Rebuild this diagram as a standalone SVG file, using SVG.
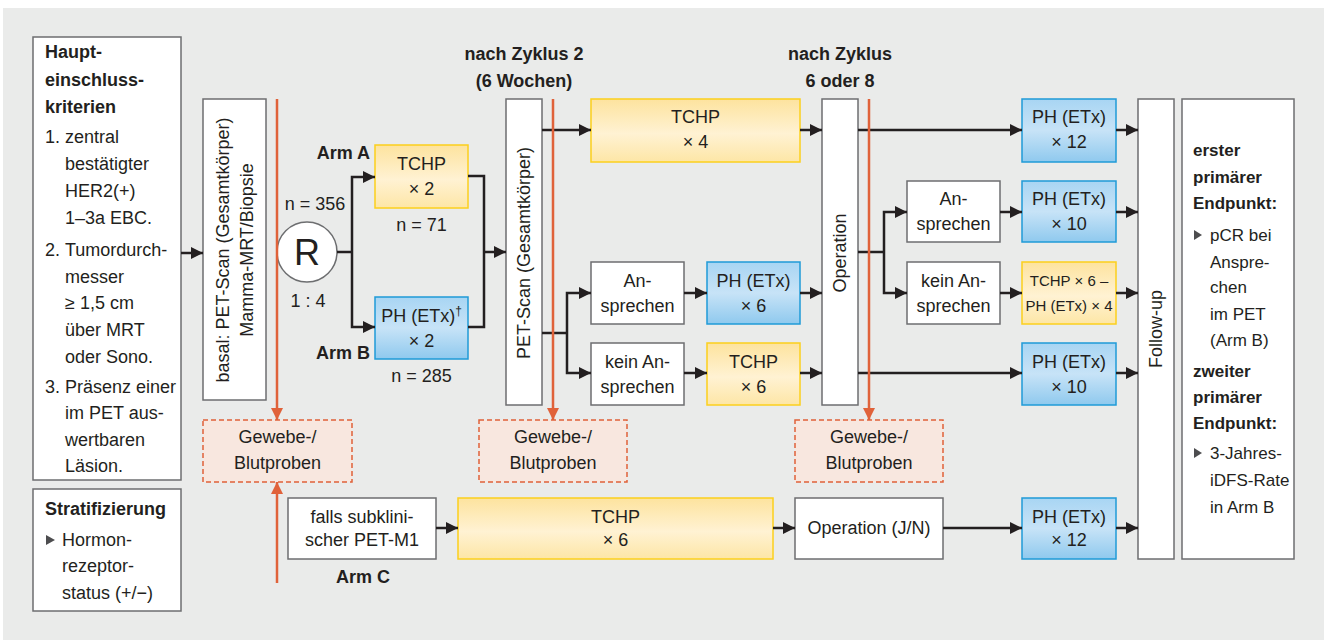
<svg xmlns="http://www.w3.org/2000/svg" width="1327" height="640" viewBox="0 0 1327 640">
  <defs>
    <linearGradient id="gradYellow" x1="0" y1="0" x2="0" y2="1">
      <stop offset="0" stop-color="#fde39e"/>
      <stop offset="0.55" stop-color="#fff2d3"/>
      <stop offset="1" stop-color="#fde6a6"/>
    </linearGradient>
    <linearGradient id="gradBlue" x1="0" y1="0" x2="0" y2="1">
      <stop offset="0" stop-color="#a8d5f3"/>
      <stop offset="0.5" stop-color="#c7e3f7"/>
      <stop offset="1" stop-color="#8fc9ee"/>
    </linearGradient>
    <marker id="arrowDark" markerUnits="userSpaceOnUse" markerWidth="12" markerHeight="12" refX="12" refY="6" orient="auto">
      <path d="M0,0 L12,6 L0,12 z" fill="#231f20"/>
    </marker>
    <marker id="arrowOrange" markerUnits="userSpaceOnUse" markerWidth="12" markerHeight="12" refX="12" refY="6" orient="auto">
      <path d="M0,0 L12,6 L0,12 z" fill="#e0623a"/>
    </marker>
    <style>
      text { font-family: "Liberation Sans", Arial, sans-serif; font-size: 18px; fill: #231f20; }
      .b { font-weight: bold; }
      .c { text-anchor: middle; }
      .e { text-anchor: end; }
      .small { font-size: 15px; }
      .ep { font-size: 17px; }
      .big { font-size: 36px; }
      .plain { fill: #ffffff; stroke: #6d6e70; stroke-width: 1.5; }
      .yel { fill: url(#gradYellow); stroke: #fcd01c; stroke-width: 1.5; }
      .blu { fill: url(#gradBlue); stroke: #1f9bd7; stroke-width: 1.5; }
      .probe { fill: #f8e7df; stroke: #e0623a; stroke-width: 1.5; stroke-dasharray: 5 3; }
      .conn { fill: none; stroke: #231f20; stroke-width: 2.5; }
      .arr { marker-end: url(#arrowDark); }
      .orange { fill: none; stroke: #e0623a; stroke-width: 2.5; marker-end: url(#arrowOrange); }
      .bullet { fill: #4d4d4f; }
    </style>
  </defs>

  <!-- panel background -->
  <rect x="0" y="0" width="1327" height="640" fill="#ffffff"/>
  <rect x="3" y="8" width="1321" height="632" fill="#eaebea"/>

  <!-- column headers -->
  <g id="header-cycle2">
    <text class="b c" x="524" y="60">nach Zyklus 2</text>
    <text class="b c" x="524" y="87">(6 Wochen)</text>
  </g>
  <g id="header-cycle6">
    <text class="b c" x="840" y="60">nach Zyklus</text>
    <text class="b c" x="840" y="87">6 oder 8</text>
  </g>

  <!-- inclusion criteria -->
  <g id="criteria">
    <rect class="plain" x="33" y="37" width="148" height="443"/>
    <text class="b" x="45" y="58">Haupt-</text>
    <text class="b" x="45" y="86">einschluss-</text>
    <text class="b" x="45" y="113">kriterien</text>
    <text x="45" y="143">1.</text>
    <text x="65" y="143">zentral</text>
    <text x="65" y="170">bestätigter</text>
    <text x="65" y="197">HER2(+)</text>
    <text x="65" y="224">1–3a EBC.</text>
    <text x="45" y="256">2.</text>
    <text x="65" y="256">Tumordurch-</text>
    <text x="65" y="283">messer</text>
    <text x="65" y="309">≥ 1,5 cm</text>
    <text x="65" y="336">über MRT</text>
    <text x="65" y="363">oder Sono.</text>
    <text x="45" y="393">3.</text>
    <text x="65" y="393">Präsenz einer</text>
    <text x="65" y="419">im PET aus-</text>
    <text x="65" y="446">wertbaren</text>
    <text x="65" y="472">Läsion.</text>
  </g>

  <g id="stratification">
    <rect class="plain" x="33" y="489" width="148" height="122"/>
    <text class="b" x="45" y="515">Stratifizierung</text>
    <polygon class="bullet" points="46,535 55,540 46,545"/>
    <text x="62" y="546">Hormon-</text>
    <text x="62" y="572">rezeptor-</text>
    <text x="62" y="599">status (+/−)</text>
  </g>

  <!-- baseline imaging -->
  <g id="baseline">
    <rect class="plain" x="203" y="99" width="63" height="301"/>
    <text class="c" transform="translate(229,250) rotate(-90)">basal: PET-Scan (Gesamtkörper)</text>
    <text class="c" transform="translate(253,250) rotate(-90)">Mamma-MRT/Biopsie</text>
  </g>

  <!-- randomisation -->
  <g id="randomisation">
    <circle cx="307" cy="252" r="30" fill="#ffffff" stroke="#6d6e70" stroke-width="1.5"/>
    <text class="big c" x="307" y="265">R</text>
    <text class="c" x="315" y="210">n = 356</text>
    <text class="c" x="308" y="307">1 : 4</text>
  </g>

  <g id="armA-tchp2">
    <rect class="yel" x="375" y="145" width="93" height="63"/>
    <text class="c" x="421.5" y="170">TCHP</text>
    <text class="c" x="421.5" y="195">× 2</text>
    <text class="b e" x="370" y="159">Arm A</text>
    <text class="c" x="421.5" y="231">n = 71</text>
  </g>

  <g id="armB-ph2">
    <rect class="blu" x="375" y="297" width="93" height="62"/>
    <text class="c" x="421.5" y="322">PH (ETx)<tspan font-size="12" dy="-7">†</tspan></text>
    <text class="c" x="421.5" y="347">× 2</text>
    <text class="b e" x="370" y="359">Arm B</text>
    <text class="c" x="421.5" y="382">n = 285</text>
  </g>

  <!-- interim PET after cycle 2 -->
  <g id="pet-interim">
    <rect class="plain" x="506" y="99" width="36" height="306"/>
    <text class="c" transform="translate(530,253) rotate(-90)">PET-Scan (Gesamtkörper)</text>
  </g>

  <g id="armA-tchp4">
    <rect class="yel" x="591" y="99" width="209" height="63"/>
    <text class="c" x="695.5" y="123">TCHP</text>
    <text class="c" x="695.5" y="148">× 4</text>
  </g>

  <g id="armB-response">
    <rect class="plain" x="591" y="262" width="93" height="62"/>
    <text class="c" x="637.5" y="287">An-</text>
    <text class="c" x="637.5" y="312">sprechen</text>
  </g>
  <g id="armB-ph6">
    <rect class="blu" x="707" y="262" width="93" height="62"/>
    <text class="c" x="753.5" y="287">PH (ETx)</text>
    <text class="c" x="753.5" y="312">× 6</text>
  </g>

  <g id="armB-noresponse">
    <rect class="plain" x="591" y="343" width="93" height="62"/>
    <text class="c" x="637.5" y="368">kein An-</text>
    <text class="c" x="637.5" y="393">sprechen</text>
  </g>
  <g id="armB-tchp6">
    <rect class="yel" x="707" y="343" width="93" height="62"/>
    <text class="c" x="753.5" y="368">TCHP</text>
    <text class="c" x="753.5" y="393">× 6</text>
  </g>

  <!-- surgery -->
  <g id="surgery">
    <rect class="plain" x="822" y="99" width="36" height="306"/>
    <text class="c" transform="translate(846,253) rotate(-90)">Operation</text>
  </g>

  <g id="post-ph12">
    <rect class="blu" x="1022" y="99" width="94" height="63"/>
    <text class="c" x="1069" y="123">PH (ETx)</text>
    <text class="c" x="1069" y="148">× 12</text>
  </g>

  <g id="post-response">
    <rect class="plain" x="907" y="181" width="93" height="61"/>
    <text class="c" x="953.5" y="205">An-</text>
    <text class="c" x="953.5" y="230">sprechen</text>
  </g>
  <g id="post-ph10a">
    <rect class="blu" x="1022" y="181" width="94" height="61"/>
    <text class="c" x="1069" y="205">PH (ETx)</text>
    <text class="c" x="1069" y="230">× 10</text>
  </g>

  <g id="post-noresponse">
    <rect class="plain" x="907" y="262" width="93" height="62"/>
    <text class="c" x="953.5" y="287">kein An-</text>
    <text class="c" x="953.5" y="312">sprechen</text>
  </g>
  <g id="post-tchp-ph">
    <rect class="yel" x="1022" y="262" width="94" height="62"/>
    <text class="small c" x="1069" y="286">TCHP × 6 –</text>
    <text class="small c" x="1069" y="311">PH (ETx) × 4</text>
  </g>

  <g id="post-ph10b">
    <rect class="blu" x="1022" y="343" width="94" height="62"/>
    <text class="c" x="1069" y="368">PH (ETx)</text>
    <text class="c" x="1069" y="393">× 10</text>
  </g>

  <!-- sample collection -->
  <g id="samples-1">
    <rect class="probe" x="203" y="420" width="149" height="62"/>
    <text class="c" x="277.5" y="443">Gewebe-/</text>
    <text class="c" x="277.5" y="469">Blutproben</text>
  </g>
  <g id="samples-2">
    <rect class="probe" x="479" y="420" width="148" height="62"/>
    <text class="c" x="553" y="443">Gewebe-/</text>
    <text class="c" x="553" y="469">Blutproben</text>
  </g>
  <g id="samples-3">
    <rect class="probe" x="795" y="420" width="148" height="62"/>
    <text class="c" x="869" y="443">Gewebe-/</text>
    <text class="c" x="869" y="469">Blutproben</text>
  </g>

  <!-- arm C -->
  <g id="armC-m1">
    <rect class="plain" x="288" y="498" width="148" height="61"/>
    <text class="c" x="362" y="523">falls subklini-</text>
    <text class="c" x="362" y="546">scher PET-M1</text>
    <text class="b c" x="363" y="583">Arm C</text>
  </g>
  <g id="armC-tchp6">
    <rect class="yel" x="458" y="498" width="315" height="61"/>
    <text class="c" x="615.5" y="523">TCHP</text>
    <text class="c" x="615.5" y="546">× 6</text>
  </g>
  <g id="armC-surgery">
    <rect class="plain" x="795" y="498" width="148" height="61"/>
    <text class="c" x="869" y="534">Operation (J/N)</text>
  </g>
  <g id="armC-ph12">
    <rect class="blu" x="1022" y="498" width="94" height="61"/>
    <text class="c" x="1069" y="523">PH (ETx)</text>
    <text class="c" x="1069" y="546">× 12</text>
  </g>

  <!-- follow-up and endpoints -->
  <g id="follow-up">
    <rect class="plain" x="1138" y="99" width="36" height="460"/>
    <text class="c" transform="translate(1162,329) rotate(-90)">Follow-up</text>
  </g>

  <g id="endpoints">
    <rect class="plain" x="1182" y="99" width="112" height="460"/>
    <text class="b ep" x="1193" y="156">erster</text>
    <text class="b ep" x="1193" y="183">primärer</text>
    <text class="b ep" x="1193" y="209">Endpunkt:</text>
    <polygon class="bullet" points="1194,230 1202,235 1194,240"/>
    <text class="ep" x="1210" y="241">pCR bei</text>
    <text class="ep" x="1210" y="268">Anspre-</text>
    <text class="ep" x="1210" y="293">chen</text>
    <text class="ep" x="1210" y="320">im PET</text>
    <text class="ep" x="1210" y="346">(Arm B)</text>
    <text class="b ep" x="1193" y="377">zweiter</text>
    <text class="b ep" x="1193" y="403">primärer</text>
    <text class="b ep" x="1193" y="429">Endpunkt:</text>
    <polygon class="bullet" points="1194,448 1202,453 1194,458"/>
    <text class="ep" x="1210" y="459">3-Jahres-</text>
    <text class="ep" x="1210" y="486">iDFS-Rate</text>
    <text class="ep" x="1210" y="513">in Arm B</text>
  </g>

  <!-- connectors -->
  <g id="connectors">
    <path class="conn arr" d="M181,253 H203"/>
    <path class="conn" d="M337,252 H352"/>
    <path class="conn arr" d="M352,252 V177 H375"/>
    <path class="conn arr" d="M352,252 V327 H375"/>
    <path class="conn" d="M468,176 H484 V327 H468"/>
    <path class="conn arr" d="M484,252 H506"/>
    <path class="conn arr" d="M542,130 H591"/>
    <path class="conn" d="M542,333 H567"/>
    <path class="conn arr" d="M567,333 V293 H591"/>
    <path class="conn arr" d="M567,333 V373 H591"/>
    <path class="conn arr" d="M684,293 H707"/>
    <path class="conn arr" d="M684,373 H707"/>
    <path class="conn arr" d="M800,130 H822"/>
    <path class="conn arr" d="M800,293 H822"/>
    <path class="conn arr" d="M800,373 H822"/>
    <path class="conn arr" d="M858,130 H1022"/>
    <path class="conn" d="M858,252 H884"/>
    <path class="conn arr" d="M884,252 V212 H907"/>
    <path class="conn arr" d="M884,252 V293 H907"/>
    <path class="conn arr" d="M1000,212 H1022"/>
    <path class="conn arr" d="M1000,293 H1022"/>
    <path class="conn arr" d="M858,373 H1022"/>
    <path class="conn arr" d="M1116,130 H1138"/>
    <path class="conn arr" d="M1116,212 H1138"/>
    <path class="conn arr" d="M1116,293 H1138"/>
    <path class="conn arr" d="M1116,373 H1138"/>
    <path class="conn arr" d="M436,528 H458"/>
    <path class="conn arr" d="M773,528 H795"/>
    <path class="conn arr" d="M943,528 H1022"/>
    <path class="conn arr" d="M1116,528 H1138"/>
    <!-- sampling time points -->
    <path class="orange" d="M277,99 V420"/>
    <path class="orange" d="M553,99 V420"/>
    <path class="orange" d="M869,99 V420"/>
    <path class="orange" d="M277,583 V482"/>
  </g>
</svg>
